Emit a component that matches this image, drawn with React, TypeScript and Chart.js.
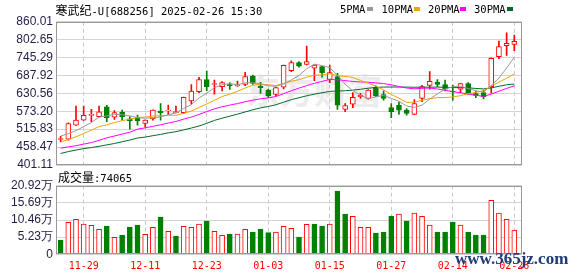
import React, { useEffect, useRef } from 'react';
import { Chart, registerables } from 'chart.js';
Chart.register(...registerables);

// ---------- data ----------
const dates = ['11-26','11-27','11-28','11-29','12-02','12-03','12-04','12-05','12-06','12-09','12-10','12-11','12-12','12-13','12-16','12-17','12-18','12-19','12-20','12-23','12-24','12-25','12-26','12-27','12-30','12-31','01-02','01-03','01-06','01-07','01-08','01-09','01-10','01-13','01-14','01-15','01-16','01-17','01-20','01-21','01-22','01-23','01-24','01-27','02-05','02-06','02-07','02-10','02-11','02-12','02-13','02-14','02-17','02-18','02-19','02-20','02-21','02-24','02-25','02-26'];
const xTickLabels = ['11-29','12-11','12-23','01-03','01-15','01-27','02-14','02-26'];

const open = [483,484,529,545,560,556,587,554,570,549, 553,534,549,574,575,569,569,606,636,675, 659,652,659,654,659,686,654,641,627,650, 703,729,723,711,716,675,684,579,596,620, 614,650,627,585,592,577,563,614,656,667, 659,638,644,662,630,633,652,748,783,787];
const close = [486,534,545,560,563,571,553,569,556,543, 542,545,577,569,577,572,618,638,675,652, 662,665,655,656,684,662,649,622,649,720, 729,718,732,721,697,697,593,591,618,624, 641,622,614,572,577,566,598,652,669,659, 644,635,662,630,624,620,743,780,791,797];
const high = [493,536,590,590,579,590,592,575,577,556, 561,546,578,598,593,590,619,659,682,702, 673,668,665,670,698,689,666,644,650,721, 735,732,782,722,717,721,695,598,633,631, 643,655,639,598,602,582,611,656,700,675, 673,657,663,665,638,641,744,798,824,817];
const low = [475,481,528,544,540,555,540,547,545,516, 529,522,545,545,563,568,566,596,633,639, 628,638,643,653,655,659,630,617,622,645, 700,714,722,671,682,665,579,572,585,614, 612,620,609,553,563,561,562,604,644,652, 638,609,633,628,617,613,631,742,752,767];

const ma5 = [493.8,501.4,511.2,524,537.2,554.4,558.2,563,562.2,558.4, 552.6,551,552.6,555.2,562,567.8,582.4,594.6,615.8,630.8, 649,658.4,661.8,658,664.4,664.4,661.2,654.6,653.2,660.4, 673.8,687.6,709.6,724,719.4,713,688,659.8,639.2,624.6, 613.4,619.2,623.8,614.6,605.2,590.2,585.4,593,612.4,628.8, 644.4,651.8,653.8,646,639,634.2,655.8,679.4,711.6,746.2];
const ma10 = [474.9,482.7,491.6,502,512.6,524.1,529.8,537.1,543.1,547.8, 553.5,554.6,557.8,558.7,560.2,560.2,566.7,573.6,585.5,596.4, 608.4,620.4,628.2,636.9,647.6,656.7,659.8,658.2,655.6,662.4, 669.1,674.4,682.1,688.6,689.9,693.4,687.8,684.7,681.6,672, 663.2,653.6,641.8,626.9,614.9,601.8,602.3,608.4,613.5,617, 617.3,618.6,623.4,629.2,633.9,639.3,653.8,666.6,678.8,692.6];
const ma20 = [455,459,463,468,473,480,488,494,500,506, 516,520,525,530,535.5,540.5,548,554.5,563,572.1, 581,587.5,593,597.8,603.9,608.5,613.3,615.9,620.6,629.4, 638.8,647.4,655.2,662.8,668.8,675.1,673.8,671.5,668.6,667.2, 666.2,664,662,657.8,652.4,647.6,645.1,646.6,647.6,644.5, 640.3,636.1,632.6,628.1,624.4,620.6,628.1,637.5,646.2,654.8];
const ma30 = [438,444,449,453.5,457,461,465.5,470,475.5,481, 487.6,490.5,495,499,504,507.8,513.5,519.5,526,534.5, 544,551,557.5,564,571,578,584,588.5,594,602.2, 610.3,616.5,622.7,628.1,632.6,636.8,638.1,638.8,640.9,643.6, 646.9,649.5,650.7,650.8,650.8,650.6,650,650.4,650.2,650.5, 649.9,648.9,649.1,648.2,646.2,644.8,648,653.2,658,660.5];

// volume in 万手
const volume = [4.37,9.75,10.66,9.24,8.84,7.62,8.63,5.18,5.89,8.33, 8.94,6.09,8.23,11.37,7.01,5.59,8.53,8.23,9.24,10.16, 7.01,5.79,6.19,6.19,7.62,6.8,7.72,6.6,6.8,8.53, 7.92,5.28,9.14,9.24,8.63,9.24,19.3,12.29,11.58,8.23, 8.23,6.5,6.8,11.68,12.29,10.16,12.59,11.58,8.94,6.8, 6.8,9.85,8.94,6.8,5.89,5.89,16.45,12.59,10.66,7.41];
// 1 = up (red), 0 = down (green)
const volUp = [0,1,1,1,1,1,0,1,0,0, 0,1,1,0,1,0,1,1,1,0, 1,1,0,1,1,0,0,0,1,1, 1,0,1,0,0,1,0,0,1,1, 1,0,0,0,1,0,1,1,1,0, 0,0,1,0,0,0,1,1,1,1];

const priceTicks = [401.11, 458.47, 515.83, 573.20, 630.56, 687.92, 745.29, 802.65, 860.01];
const volTicks = [0, 5.23, 10.46, 15.69, 20.92];
const lastVolume = '74065';

// ---------- styles ----------
const RED = '#ff0000';
const GREEN = '#008000';
const X_MIN = -0.6;
const X_MAX = 60;
const tickIdx = xTickLabels.map((d) => dates.indexOf(d));
const axisFont = { family: '"Liberation Sans", Arial, sans-serif', size: 12 };
const axisColor = '#1e1e46';

const framePlugin = {
  id: 'frame',
  afterDraw(chart: any) {
    const { ctx, chartArea: a } = chart;
    ctx.save();
    ctx.strokeStyle = '#999999';
    ctx.lineWidth = 1;
    const l = Math.round(a.left) + 0.5;
    const t = Math.round(a.top) + 0.5;
    const r = Math.round(a.right) - 0.5;
    const b = Math.round(a.bottom) - 0.5;
    ctx.strokeRect(l, t, r - l, b - t);
    ctx.restore();
  },
};

function xScale(showLabels: boolean) {
  return {
    type: 'linear',
    min: X_MIN,
    max: X_MAX,
    offset: false,
    grid: { color: '#c8c8c8', drawTicks: false, offset: false, lineWidth: 1 },
    border: { display: false, dash: [4, 3] },
    afterBuildTicks: (ax: any) => {
      ax.ticks = tickIdx.map((v) => ({ value: v }));
    },
    ticks: {
      display: showLabels,
      autoSkip: false,
      maxRotation: 0,
      padding: 6,
      color: RED,
      font: { family: '"DejaVu Sans Mono", monospace', size: 10 },
      callback: (v: any) => dates[v],
    },
    afterFit: (ax: any) => {
      ax.height = showLabels ? 21.7 : 0;
    },
  };
}

const commonOpts = {
  responsive: false,
  animation: false,
  devicePixelRatio: 1,
  events: [],
  plugins: { legend: { display: false }, tooltip: { enabled: false } },
};

function priceConfig(): any {
  const pts = (arr: number[]) => arr.map((y, i) => ({ x: i, y }));
  const up = open.map((o, i) => close[i] >= o);
  const line = (arr: number[], color: string) => ({
    type: 'line',
    data: pts(arr),
    borderColor: color,
    borderWidth: 1,
    pointRadius: 0,
    tension: 0,
    fill: false,
  });
  return {
    type: 'bar',
    data: {
      datasets: [
        line(ma5, '#999999'),
        line(ma10, '#f5a300'),
        line(ma20, '#ff00ff'),
        line(ma30, '#006b2a'),
        {
          type: 'bar',
          data: open.map((o, i) => ({ x: i, y: [o, close[i]] })),
          backgroundColor: up.map((u) => (u ? '#ffffff' : GREEN)),
          borderColor: up.map((u) => (u ? RED : GREEN)),
          borderWidth: 1,
          borderSkipped: false,
          barThickness: 5,
          grouped: false,
        },
        {
          type: 'bar',
          data: low.map((l, i) => ({ x: i, y: [l, high[i]] })),
          backgroundColor: up.map((u) => (u ? RED : GREEN)),
          borderWidth: 0,
          barThickness: 1,
          grouped: false,
        },
      ],
    },
    options: {
      ...commonOpts,
      layout: { padding: { left: 0, right: 56, top: 21.7, bottom: 13 } },
      scales: {
        x: xScale(false),
        y: {
          type: 'linear',
          min: priceTicks[0],
          max: priceTicks[priceTicks.length - 1],
          afterBuildTicks: (ax: any) => {
            ax.ticks = priceTicks.map((v) => ({ value: v }));
          },
          ticks: {
            autoSkip: false,
            padding: 3,
            color: axisColor,
            font: axisFont,
            callback: (v: any) => Number(v).toFixed(2),
          },
          grid: { color: '#d4d4d4', drawTicks: false },
          border: { display: false },
          afterFit: (ax: any) => {
            ax.width = 56;
          },
        },
      },
    },
    plugins: [framePlugin],
  };
}

function volConfig(): any {
  return {
    type: 'bar',
    data: {
      datasets: [
        {
          data: volume.map((v, i) => ({ x: i, y: v })),
          backgroundColor: volUp.map((u) => (u ? '#ffffff' : GREEN)),
          borderColor: volUp.map((u) => (u ? RED : GREEN)),
          borderWidth: 1,
          borderSkipped: false,
          barThickness: 5,
          grouped: false,
        },
      ],
    },
    options: {
      ...commonOpts,
      layout: { padding: { left: 0, right: 56, top: 15.7, bottom: 0 } },
      scales: {
        x: xScale(true),
        y: {
          type: 'linear',
          min: volTicks[0],
          max: volTicks[volTicks.length - 1],
          afterBuildTicks: (ax: any) => {
            ax.ticks = volTicks.map((v) => ({ value: v }));
          },
          ticks: {
            autoSkip: false,
            padding: 3,
            color: axisColor,
            font: axisFont,
            callback: (v: any) => (Number(v) === 0 ? '0' : Number(v).toFixed(2) + '万'),
          },
          grid: { color: '#d4d4d4', drawTicks: false },
          border: { display: false },
          afterFit: (ax: any) => {
            ax.width = 56;
          },
        },
      },
    },
    plugins: [framePlugin],
  };
}

const mono = '"DejaVu Sans Mono", monospace';
const cjk = '"Noto Sans CJK SC", sans-serif';

export default function App() {
  const priceRef = useRef<HTMLCanvasElement>(null);
  const volRef = useRef<HTMLCanvasElement>(null);

  useEffect(() => {
    const pc = new Chart(priceRef.current as HTMLCanvasElement, priceConfig());
    const vc = new Chart(volRef.current as HTMLCanvasElement, volConfig());
    return () => {
      pc.destroy();
      vc.destroy();
    };
  }, []);

  const legend = [
    { label: '5PMA', x: 340, sq: 367, color: '#999999' },
    { label: '10PMA', x: 381.5, sq: 414, color: '#f5a300' },
    { label: '20PMA', x: 428, sq: 460, color: '#ff00ff' },
    { label: '30PMA', x: 474, sq: 507, color: '#006b2a' },
  ];

  return (
    <div style={{ position: 'absolute', left: 0, top: 0, width: 578, height: 276, overflow: 'hidden', background: '#ffffff' }}>
      <div style={{ position: 'absolute', left: 246, top: 70, fontFamily: cjk, fontWeight: 700, fontSize: 34, lineHeight: '40px', color: '#ececec', whiteSpace: 'nowrap', zIndex: 0 }}>
        东方财富
      </div>
      <canvas ref={priceRef} width={578} height={178} style={{ position: 'absolute', left: 0, top: 0, zIndex: 1 }} />
      <canvas ref={volRef} width={578} height={106} style={{ position: 'absolute', left: 0, top: 170, zIndex: 2 }} />
      <div style={{ position: 'absolute', left: 55.5, top: 3, lineHeight: '13px', whiteSpace: 'nowrap', color: '#000', zIndex: 3 }}>
        <span style={{ fontFamily: cjk, fontSize: 12 }}>寒武纪</span>
        <span style={{ fontFamily: mono, fontSize: 10.5 }}>-U[688256] 2025-02-26 15:30</span>
      </div>
      {legend.map((l) => (
        <React.Fragment key={l.label}>
          <div style={{ position: 'absolute', left: l.x, top: 3, lineHeight: '13px', fontFamily: mono, fontSize: 10.5, color: '#000', whiteSpace: 'nowrap', zIndex: 3 }}>
            {l.label}
          </div>
          <div style={{ position: 'absolute', left: l.sq, top: 7, width: 6, height: 4, background: l.color, zIndex: 3 }} />
        </React.Fragment>
      ))}
      <div style={{ position: 'absolute', left: 58, top: 170, lineHeight: '14px', whiteSpace: 'nowrap', color: '#000', zIndex: 3 }}>
        <span style={{ fontFamily: cjk, fontSize: 12 }}>成交量</span>
        <span style={{ fontFamily: mono, fontSize: 10.5 }}>:{lastVolume}</span>
      </div>
      <div style={{ position: 'absolute', left: 455, top: 250, fontFamily: '"Liberation Serif", serif', fontWeight: 700, fontSize: 17, lineHeight: '17px', color: '#1f3b78', whiteSpace: 'nowrap', zIndex: 4 }}>
        www.365jz.com
      </div>
    </div>
  );
}
